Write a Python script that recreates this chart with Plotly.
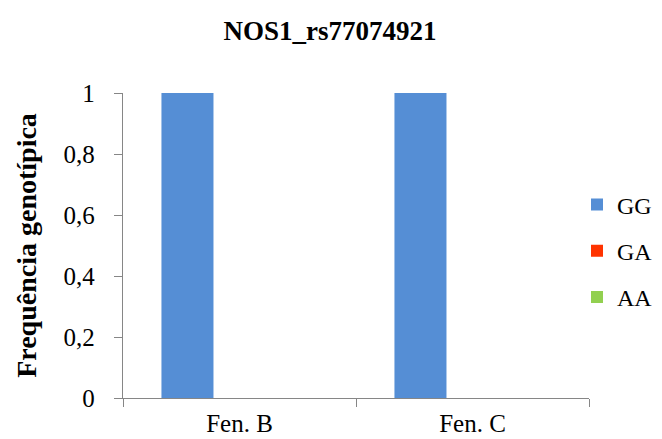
import plotly.graph_objects as go

categories = ["Fen. B", "Fen. C"]
genotypes = ["GG", "GA", "AA"]
values_GG = [1.0, 1.0]
values_GA = [0.0, 0.0]
values_AA = [0.0, 0.0]
colors = {"GG": "#558ED5", "GA": "#FF3300", "AA": "#92D050"}
y_tickvals = [0, 0.2, 0.4, 0.6, 0.8, 1]
y_ticktext = ["0", "0,2", "0,4", "0,6", "0,8", "1"]

series = {"GG": values_GG, "GA": values_GA, "AA": values_AA}
font_family = "Liberation Serif"

fig = go.Figure()
for g in genotypes:
    fig.add_trace(go.Bar(x=categories, y=series[g], name=g, legendgroup=g,
                         marker=dict(color=colors[g], line=dict(width=0))))

axis_color = "#868686"
fig.update_layout(
    width=662, height=439,
    margin=dict(l=123, r=73, t=93, b=41, autoexpand=False),
    paper_bgcolor="white", plot_bgcolor="white",
    font=dict(family=font_family, size=24, color="black"),
    title=dict(text="<b>NOS1_rs77074921</b>", x=(330 / 662), xanchor="center",
               xref="container", y=1 - 31 / 439, yanchor="middle",
               font=dict(size=27)),
    barmode="group", bargap=0.33, bargroupgap=0,
    showlegend=True,
    legend=dict(x=577 / 662, xref="container", xanchor="left",
                y=1 - 251 / 439, yref="container", yanchor="middle",
                tracegroupgap=12, font=dict(size=24),
                bgcolor="rgba(0,0,0,0)"),
    xaxis=dict(showline=True, linecolor=axis_color, linewidth=1.3,
               ticks="outside", tickson="boundaries", ticklen=8,
               tickcolor=axis_color, showgrid=False, tickfont=dict(size=25),
               ticklabelstandoff=3, automargin=False),
    yaxis=dict(range=[0, 1], tickvals=y_tickvals, ticktext=y_ticktext,
               showline=True, linecolor=axis_color, linewidth=1.3,
               ticks="outside", ticklen=8, tickcolor=axis_color,
               showgrid=False, zeroline=False, tickfont=dict(size=25),
               ticklabelstandoff=14, automargin=False,
               title=dict(text="<b>Frequência genotípica</b>", font=dict(size=28),
                          standoff=18)),
)

fig.write_html("out.html")
